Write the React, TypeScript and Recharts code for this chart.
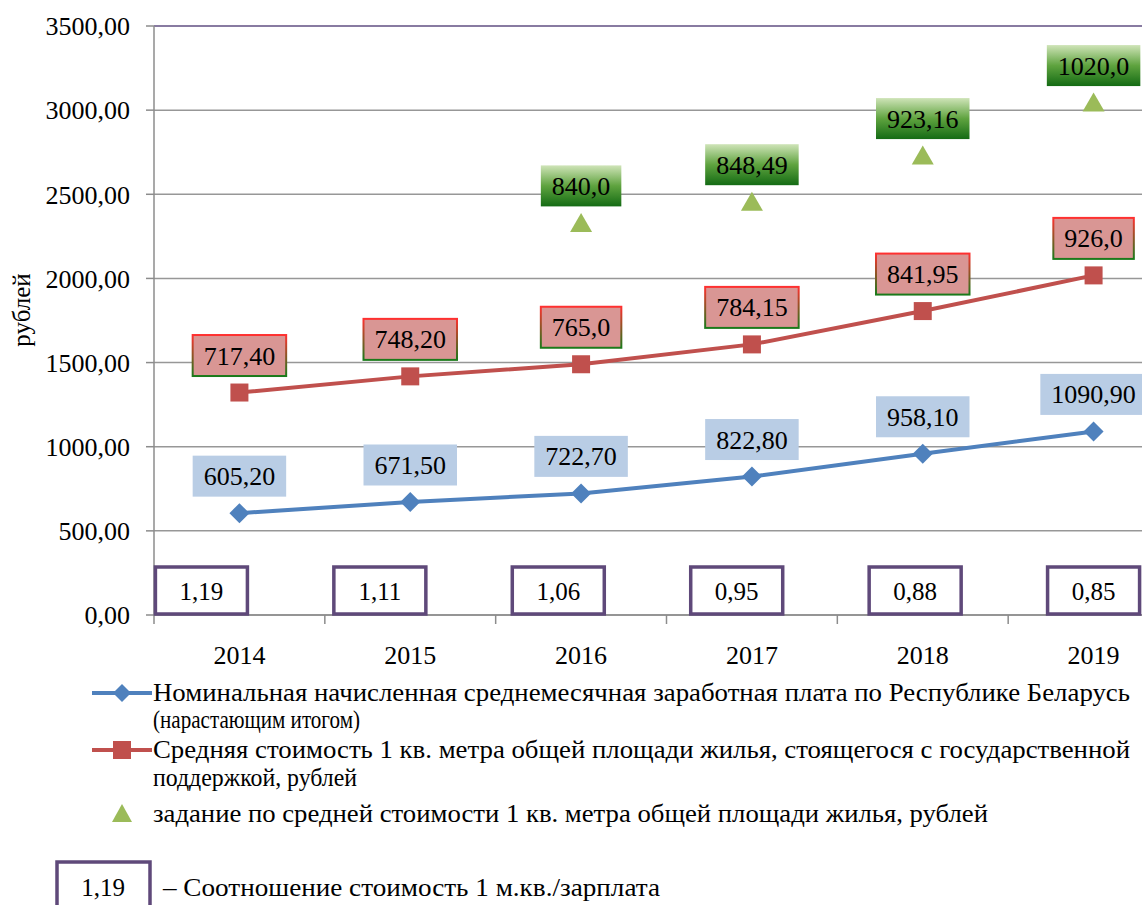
import { LineChart, Line, XAxis, YAxis, CartesianGrid, LabelList, ReferenceLine } from "recharts";

const years = ["2014", "2015", "2016", "2017", "2018", "2019"];
// номинальная зарплата (рублей)
const salary = [605.2, 671.5, 722.7, 822.8, 958.1, 1090.9];
// средняя стоимость 1 кв. м — положение точек на графике
const cost = [1322, 1418, 1490, 1608, 1806, 2018];
const costLabels = ["717,40", "748,20", "765,0", "784,15", "841,95", "926,0"];
// задание по стоимости — положение точек
const target = [null, null, 2330, 2456, 2730, 3045];
const targetLabels = ["", "", "840,0", "848,49", "923,16", "1020,0"];
// соотношение стоимость 1 м.кв./зарплата
const ratios = ["1,19", "1,11", "1,06", "0,95", "0,88", "0,85"];
const yTicks = [0, 500, 1000, 1500, 2000, 2500, 3000, 3500];

const data = years.map((year, i) => ({
  idx: i,
  year,
  salary: salary[i],
  cost: cost[i],
  target: target[i],
  base: 0,
}));

const W = 1190;
const H = 905;
const LEFT = 154;
const RIGHT = 11;
const TOP = 26;
const AXIS_H = 290;
const FONT = "Liberation Serif, Times New Roman, Tinos, serif";
const FS = 26;

const BLUE = "#4f81bd";
const RED = "#c0504d";
const GREEN = "#9bbb59";
const PURPLE = "#5f497a";

const textW = (s: string) =>
  [...s].reduce((w, c) => w + (c === "," ? 0.25 : 0.5) * FS, 0);

const fmt = (v: number) => v.toFixed(2).replace(".", ",");

function LabelBox({ x, y, text, fill, stroke }: any) {
  if (!text) return null;
  const w = textW(text) + 22;
  const h = 41;
  const cy = y - 37;
  return (
    <g>
      <rect x={x - w / 2} y={cy - h / 2} width={w} height={h} fill={fill} stroke={stroke} strokeWidth={stroke ? 2 : 0} />
      <text x={x} y={cy + 9} textAnchor="middle" fontFamily={FONT} fontSize={FS} fill="#000">
        {text}
      </text>
    </g>
  );
}

function RatioBox({ x, y, index }: any) {
  const w = 92;
  const h = 47;
  const cx = x - (5 - index) * 7.6;
  return (
    <g>
      <rect x={cx - w / 2} y={y - h - 1} width={w} height={h} fill="#fff" stroke={PURPLE} strokeWidth={3.5} />
      <text x={cx} y={y - h / 2 + 8} textAnchor="middle" fontFamily={FONT} fontSize={25} fill="#000">
        {ratios[index]}
      </text>
    </g>
  );
}

const half = (W - LEFT - RIGHT) / years.length / 2;

function YearTick({ x, y, payload, index }: any) {
  return (
    <g>
      <line x1={x - half} y1={y} x2={x - half} y2={y + 9} stroke="#8c8c8c" strokeWidth={1.5} />
      {index === years.length - 1 && (
        <line x1={x + half} y1={y} x2={x + half} y2={y + 9} stroke="#8c8c8c" strokeWidth={1.5} />
      )}
      <text x={x} y={y + 49} textAnchor="middle" fontFamily={FONT} fontSize={FS} fill="#000">
        {years[payload.value]}
      </text>
    </g>
  );
}

function Diamond({ cx, cy }: any) {
  const r = 10;
  return <polygon points={`${cx},${cy - r} ${cx + r},${cy} ${cx},${cy + r} ${cx - r},${cy}`} fill={BLUE} />;
}

function Square({ cx, cy }: any) {
  return <rect x={cx - 9} y={cy - 9} width={18} height={18} fill={RED} />;
}

function Triangle({ cx, cy, payload }: any) {
  if (payload.target == null) return <g />;
  return <polygon points={`${cx},${cy - 10} ${cx + 11},${cy + 9} ${cx - 11},${cy + 9}`} fill={GREEN} />;
}

function Legend() {
  const text = { fontFamily: FONT, fontSize: 25, fill: "#000" } as const;
  return (
    <svg width={1142} height={240} style={{ position: "absolute", left: 0, top: 670 }}>
      <line x1={92} y1={23} x2={152} y2={23} stroke={BLUE} strokeWidth={4} />
      <polygon points="122,14 131,23 122,32 113,23" fill={BLUE} />
      <text x={153} y={31} {...text} textLength={977} lengthAdjust="spacingAndGlyphs">
        Номинальная начисленная среднемесячная заработная плата по Республике Беларусь
      </text>
      <text x={153} y={58} {...text} textLength={207} lengthAdjust="spacingAndGlyphs">(нарастающим итогом)</text>
      <line x1={92} y1={80} x2={152} y2={80} stroke={RED} strokeWidth={4} />
      <rect x={113} y={71} width={18} height={18} fill={RED} />
      <text x={153} y={88} {...text} textLength={977} lengthAdjust="spacingAndGlyphs">
        Средняя стоимость 1 кв. метра общей площади жилья, стоящегося с государственной
      </text>
      <text x={153} y={116} {...text} textLength={204} lengthAdjust="spacingAndGlyphs">поддержкой, рублей</text>
      <polygon points="122,134 132,152 112,152" fill={GREEN} />
      <text x={153} y={152} {...text} textLength={835} lengthAdjust="spacingAndGlyphs">
        задание по средней стоимости 1 кв. метра общей площади жилья, рублей
      </text>
      <rect x={57} y={192} width={93} height={48} fill="#fff" stroke={PURPLE} strokeWidth={3.5} />
      <text x={103} y={226} textAnchor="middle" {...text}>1,19</text>
      <text x={163} y={226} {...text} textLength={497} lengthAdjust="spacingAndGlyphs">
        – Соотношение стоимость 1 м.кв./зарплата
      </text>
    </svg>
  );
}

export default function App() {
  return (
    <div style={{ position: "absolute", left: 0, top: 0, width: 1142, height: H, overflow: "hidden", background: "#fff", fontFamily: FONT }}>
      <LineChart width={W} height={H} data={data} margin={{ top: TOP, right: RIGHT, left: 0, bottom: 0 }}>
        <defs>
          <linearGradient id="redBorder" x1="0" y1="0" x2="0" y2="1">
            <stop offset="0" stopColor="#ff3030" />
            <stop offset="1" stopColor="#1a7a1a" />
          </linearGradient>
          <linearGradient id="greenFill" x1="0" y1="0" x2="0" y2="1">
            <stop offset="0" stopColor="#cfe4b8" />
            <stop offset="0.5" stopColor="#5fa33f" />
            <stop offset="1" stopColor="#146b14" />
          </linearGradient>
        </defs>
        <CartesianGrid vertical={false} stroke="#979797" strokeWidth={1.5} />
        <ReferenceLine y={3500} stroke="#7b6a9c" strokeWidth={1.5} />
        <XAxis
          dataKey="idx"
          type="number"
          domain={[-0.5, 5.5]}
          ticks={[0, 1, 2, 3, 4, 5]}
          height={AXIS_H}
          tickLine={false}
          tickSize={0}
          tickMargin={0}
          stroke="#8c8c8c"
          strokeWidth={1.5}
          tick={<YearTick />}
        />
        <YAxis
          width={LEFT}
          domain={[0, 3500]}
          ticks={yTicks}
          tickFormatter={fmt}
          tickSize={8}
          tickMargin={16}
          stroke="#8c8c8c"
          strokeWidth={1.5}
          tick={{ fill: "#000", fontSize: FS, fontFamily: FONT }}
          label={{
            content: () => (
              <text x={30} y={310} transform="rotate(-90 30 310)" textAnchor="middle" fontFamily={FONT} fontSize={25} fill="#000">
                рублей
              </text>
            ),
          }}
        />
        <Line dataKey="base" stroke="none" dot={false} isAnimationActive={false}>
          <LabelList dataKey="base" content={(p: any) => <RatioBox {...p} />} />
        </Line>
        <Line dataKey="salary" stroke={BLUE} strokeWidth={4} dot={<Diamond />} isAnimationActive={false}>
          <LabelList dataKey="salary" content={(p: any) => <LabelBox x={p.x} y={p.y} text={fmt(salary[p.index])} fill="#b9cde5" />} />
        </Line>
        <Line dataKey="cost" stroke={RED} strokeWidth={4} dot={<Square />} isAnimationActive={false}>
          <LabelList dataKey="cost" content={(p: any) => <LabelBox x={p.x} y={p.y} text={costLabels[p.index]} fill="#d99694" stroke="url(#redBorder)" />} />
        </Line>
        <Line dataKey="target" stroke="none" dot={<Triangle />} isAnimationActive={false}>
          <LabelList dataKey="target" content={(p: any) => (p.value == null ? null : <LabelBox x={p.x} y={p.y} text={targetLabels[p.index]} fill="url(#greenFill)" />)} />
        </Line>
      </LineChart>
      <Legend />
    </div>
  );
}
